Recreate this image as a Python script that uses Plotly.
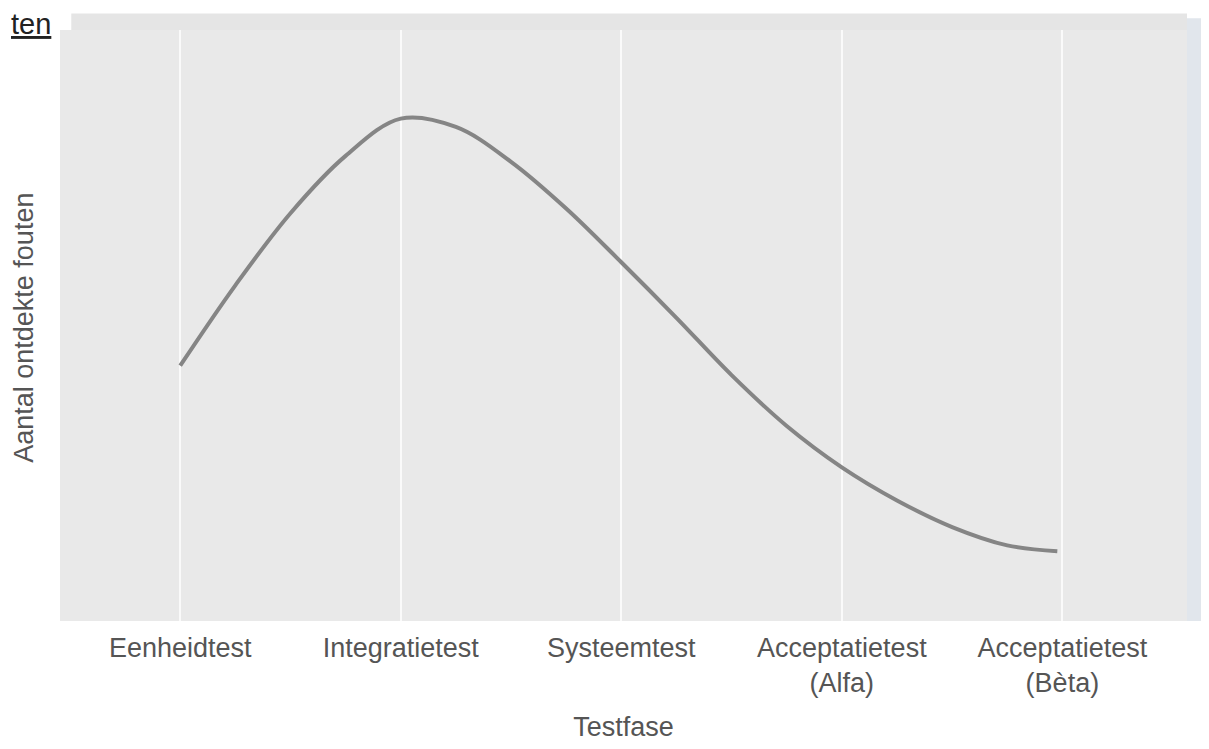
import plotly.graph_objects as go

categories = ["Eenheidtest", "Integratietest", "Systeemtest",
              "Acceptatietest<br>(Alfa)", "Acceptatietest<br>(Bèta)"]
category_pos = [0, 1, 2, 3, 4]

# curve (x in category units, y in relative units 0-100)
curve_x = [0, 0.25, 0.5, 0.75, 1.0, 1.25, 1.5, 1.75, 2.0, 2.25,
           2.5, 2.75, 3.0, 3.25, 3.5, 3.75, 3.977]
curve_y = [43.2, 56.8, 69.0, 78.7, 85.0, 83.6, 77.7, 69.8, 60.7, 51.3,
           41.6, 33.0, 26.0, 20.4, 15.9, 12.8, 11.8]

x_title = "Testfase"
y_title = "Aantal ontdekte fouten"

font_family = "Liberation Sans, Arial, sans-serif"
text_color = "#555555"
font_size = 27

fig = go.Figure()
fig.add_trace(go.Scatter(
    x=curve_x, y=curve_y, mode="lines",
    line=dict(color="#858585", width=4, shape="spline", smoothing=1.0),
    hoverinfo="skip", showlegend=False,
))

fig.update_layout(
    width=1201, height=741,
    margin=dict(l=52, r=22, t=22, b=126),
    paper_bgcolor="white",
    plot_bgcolor="#e9e9e9",
    font=dict(family=font_family, size=font_size, color=text_color),
    xaxis=dict(
        range=[-0.545, 4.565],
        tickmode="array", tickvals=category_pos, ticktext=categories,
        showgrid=True, gridcolor="#fafafa", gridwidth=2,
        zeroline=False, showline=False, ticks="",
        ticklabelstandoff=8,
        tickfont=dict(size=font_size, color=text_color),
        title=dict(text=x_title, font=dict(size=font_size, color=text_color), standoff=20),
    ),
    yaxis=dict(
        range=[0, 100],
        showgrid=False, zeroline=False, showline=False,
        showticklabels=False, ticks="",
    ),
    shapes=[
        # light strip along the top of the panel
        dict(type="rect", xref="paper", yref="paper", x0=0.01, x1=1.0, y0=1.0, y1=1.028,
             fillcolor="#e5e5e5", line=dict(width=0), layer="below"),
        # bevelled right edge
        dict(type="rect", xref="paper", yref="paper", x0=1.0, x1=1.013, y0=0.0, y1=1.02,
             fillcolor="#e1e6ec", line=dict(width=0), layer="below"),
    ],
    annotations=[
        dict(text=y_title, xref="paper", yref="paper", x=-0.032, y=0.496,
             xanchor="center", yanchor="middle", textangle=-90, showarrow=False,
             font=dict(size=font_size, color=text_color, family=font_family)),
        dict(text="<u>ten</u>", xref="paper", yref="paper", x=-0.045, y=1.04,
             xanchor="left", yanchor="top", showarrow=False,
             font=dict(size=29, color="#222222", family=font_family)),
    ],
)

fig.write_html("out.html")
